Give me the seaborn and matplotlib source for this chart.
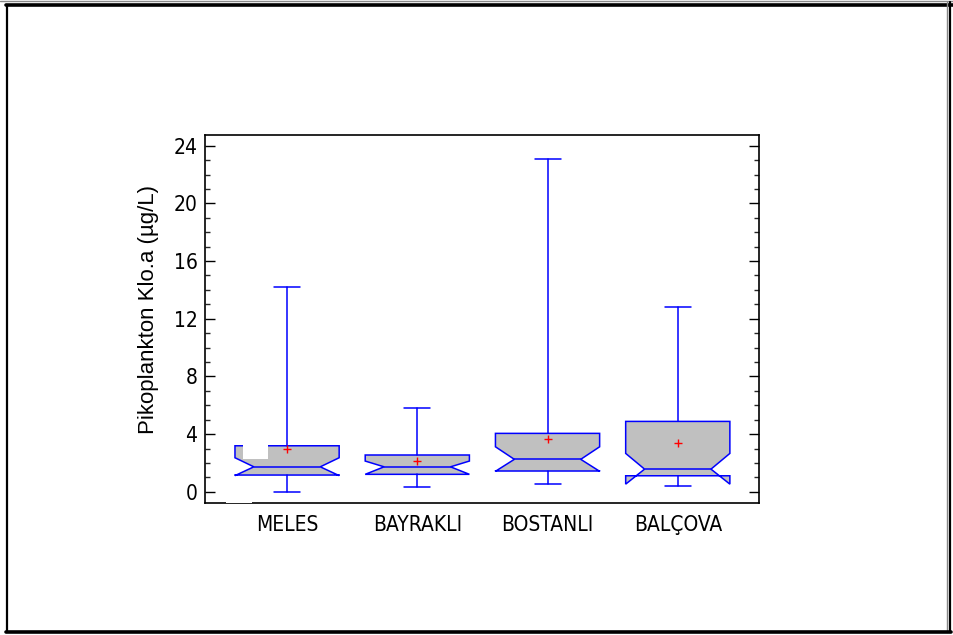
import matplotlib
matplotlib.use("Agg")
import matplotlib.pyplot as plt
from matplotlib import font_manager
from matplotlib.font_manager import FontProperties
from matplotlib.lines import Line2D
from matplotlib.patches import Rectangle
import numpy as np
import seaborn as sns

# --- data -----------------------------------------------------------------
stations = ["MELES", "BAYRAKLI", "BOSTANLI", "BAL\u00c7OVA"]
whisker_low = [0.00, 0.33, 0.53, 0.40]
q1 = [1.16, 1.21, 1.44, 1.11]
median = [1.73, 1.73, 2.25, 1.57]
q3 = [3.19, 2.55, 4.05, 4.88]
whisker_high = [14.22, 5.83, 23.10, 12.81]
notch_low = [1.12, 1.21, 1.42, 0.53]
notch_high = [2.36, 2.13, 3.12, 2.66]
mean = [2.94, 2.13, 3.68, 3.38]
y_ticks = [0, 4, 8, 12, 16, 20, 24]
y_label = "Pikoplankton Klo.a (µg/L)"

# --- style ----------------------------------------------------------------
sns.set_style("white")
plt.rcParams["font.family"] = ["Liberation Sans", "DejaVu Sans"]
plt.rcParams["text.color"] = "black"


def pick_condensed(size):
    """Prefer a narrow/condensed regular face for the tick labels."""
    for f in font_manager.fontManager.ttflist:
        name = f.name.lower()
        narrowish = ("narrow" in name or "condensed" in name
                     or str(f.stretch) in ("condensed", "semi-condensed", "500", "375"))
        if narrowish and f.style == "normal" and f.weight in (400, "normal", "regular"):
            return FontProperties(fname=f.fname, size=size)
    return None


tick_font = pick_condensed(15)
if tick_font is None:
    tick_font = FontProperties(family=["Liberation Sans", "DejaVu Sans"], size=14)

BLUE = "#0000FF"
GREY = "#C0C0C0"
RED = "#FF0000"

fig = plt.figure(figsize=(9.54, 6.35), dpi=100)
ax = fig.add_axes([0.2149, 0.2083, 0.5802, 0.5795])

positions = np.arange(len(stations))
box_width = 0.8
notch_half = 0.255

stats = []
for i, name in enumerate(stations):
    stats.append(dict(label=name, whislo=whisker_low[i], q1=q1[i], med=median[i],
                      q3=q3[i], whishi=whisker_high[i], cilo=notch_low[i],
                      cihi=notch_high[i], fliers=[]))

art = ax.bxp(stats, positions=positions, widths=box_width, capwidths=0.2,
             shownotches=True, showfliers=False, patch_artist=True,
             boxprops=dict(facecolor=GREY, edgecolor=BLUE, linewidth=1.1),
             medianprops=dict(color=BLUE, linewidth=1.1),
             whiskerprops=dict(color=BLUE, linewidth=1.1),
             capprops=dict(color=BLUE, linewidth=1.1))

# widen the notch waist of every box and its median line
for pos, box, med_line in zip(positions, art["boxes"], art["medians"]):
    verts = box.get_path().vertices
    verts[3, 0] = pos + notch_half
    verts[8, 0] = pos - notch_half
    med_line.set_xdata([pos - notch_half, pos + notch_half])

# mean markers
sns.scatterplot(x=positions, y=mean, marker="+", color=RED, s=40,
                linewidth=1.0, ax=ax, zorder=5)

# --- axes -----------------------------------------------------------------
ax.set_xlim(-0.63, 3.62)
ax.set_ylim(-0.76, 24.76)
ax.set_xticks(positions)
ax.set_xticklabels(stations, fontproperties=tick_font, color="black")
ax.set_yticks(y_ticks)
ax.set_yticklabels([str(v) for v in y_ticks], fontproperties=tick_font, color="black")
ax.set_yticks(np.arange(0, 25, 1), minor=True)
ax.tick_params(axis="x", length=0, pad=8.5)
ax.tick_params(axis="y", which="major", direction="in", length=7.2, width=1.0,
               left=True, right=True, pad=5.5, colors="black")
ax.tick_params(axis="y", which="minor", direction="in", length=3.8, width=1.0,
               left=True, right=True)
for sp in ax.spines.values():
    sp.set_color("black")
    sp.set_linewidth(1.2)

ax.set_xlabel("")
ax.set_ylabel(y_label, fontsize=16, color="black",
              family=["Liberation Sans", "DejaVu Sans"])
ax.yaxis.set_label_coords(-0.083, 0.526)

# white overlay patches
ax.add_patch(Rectangle((-0.34, 2.30), 0.195, 1.0, facecolor="white",
                       edgecolor="none", zorder=4))
ax.add_patch(Rectangle((0.038, 0.0), 0.046, 0.006, transform=ax.transAxes,
                       facecolor="white", edgecolor="none", zorder=10,
                       clip_on=False))

# page frame
frame = [
    ((0.0, 1.0), (0.9985, 0.9985), "#888888", 1.0),
    ((0.006, 1.0), (0.9915, 0.9915), "black", 2.6),
    ((0.0073, 0.0073), (0.0045, 0.9925), "black", 1.6),
    ((0.9925, 0.9925), (0.004, 0.997), "#888888", 1.0),
    ((0.9953, 0.9953), (0.004, 0.997), "black", 1.6),
    ((0.006, 0.997), (0.0045, 0.0045), "black", 2.6),
]
for xs, ys, c, lw in frame:
    fig.add_artist(Line2D(xs, ys, color=c, linewidth=lw, transform=fig.transFigure))

fig.savefig("out.png", dpi=100, facecolor="white")
